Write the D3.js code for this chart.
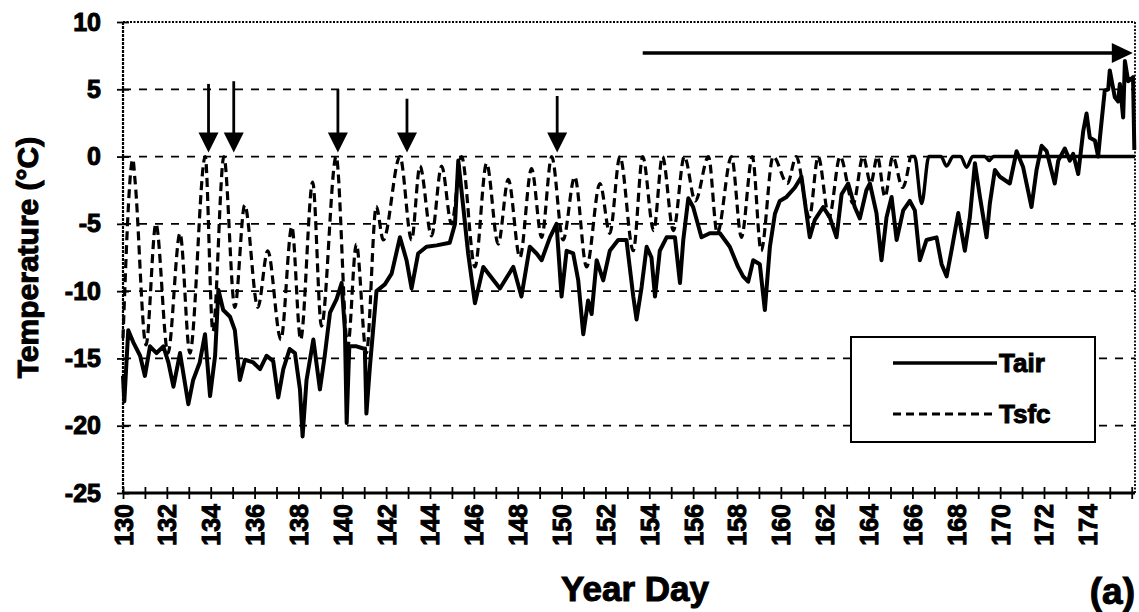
<!DOCTYPE html>
<html>
<head>
<meta charset="utf-8">
<script src="https://cdn.jsdelivr.net/npm/d3@7"></script>
<style>
  body { margin: 0; background: #fff; }
  svg { display: block; }
  text { font-family: "Liberation Sans", Arial, sans-serif; font-weight: bold; fill: #000; stroke: #000; stroke-width: 1px; }
</style>
</head>
<body>
<div id="chart"></div>
<script>
// Year day / temperature readings (approximate)
const tairDay = [130.0, 130.06, 130.24, 130.47, 130.78, 131.0, 131.23, 131.53, 131.84, 132.07, 132.3, 132.6, 132.98, 133.2, 133.5, 133.74, 133.97, 134.2, 134.35, 134.57, 134.88, 135.1, 135.33, 135.56, 135.94, 136.25, 136.55, 136.85, 137.08, 137.31, 137.6, 137.84, 138.07, 138.19, 138.37, 138.68, 138.98, 139.2, 139.44, 139.74, 139.97, 140.12, 140.2, 140.32, 140.65, 141.03, 141.1, 141.26, 141.56, 141.94, 142.25, 142.63, 142.93, 143.16, 143.46, 143.84, 144.3, 144.9, 145.14, 145.29, 145.52, 145.74, 146.05, 146.43, 146.81, 147.19, 147.49, 147.8, 148.17, 148.55, 148.86, 149.09, 149.47, 149.77, 150.0, 150.23, 150.53, 150.76, 150.99, 151.21, 151.37, 151.6, 151.9, 152.2, 152.58, 152.96, 153.27, 153.42, 153.65, 153.88, 154.1, 154.26, 154.48, 154.79, 155.17, 155.4, 155.55, 155.78, 156.0, 156.38, 156.76, 157.22, 157.67, 158.05, 158.28, 158.51, 158.74, 159.04, 159.27, 159.5, 159.73, 159.95, 160.26, 160.64, 160.94, 161.17, 161.32, 161.55, 161.93, 162.23, 162.54, 162.77, 163.07, 163.37, 163.6, 163.9, 164.06, 164.36, 164.59, 164.82, 165.05, 165.28, 165.58, 165.88, 166.11, 166.34, 166.64, 167.1, 167.33, 167.56, 167.78, 168.09, 168.39, 168.62, 168.85, 169.08, 169.38, 169.53, 169.76, 169.99, 170.44, 170.75, 171.05, 171.43, 171.66, 171.89, 172.12, 172.49, 172.65, 172.95, 173.18, 173.33, 173.56, 173.79, 173.94, 174.09, 174.32, 174.47, 174.55, 174.77, 174.93, 175.0, 175.23, 175.38, 175.46, 175.61, 175.69, 175.84, 176.06, 176.12];
const tairVal = [-16.3, -18.2, -12.9, -13.8, -14.8, -16.3, -14.1, -14.6, -14.1, -15.3, -17.1, -14.6, -18.4, -16.6, -15.3, -13.2, -17.8, -14.8, -9.9, -11.4, -11.9, -12.9, -16.6, -15.1, -15.3, -15.8, -14.8, -15.2, -17.9, -15.8, -14.3, -14.6, -17.3, -20.8, -16.6, -13.6, -17.3, -14.8, -11.6, -10.6, -9.4, -12.9, -19.8, -14.1, -14.1, -14.3, -19.1, -15.6, -10.0, -9.5, -8.7, -6.0, -7.7, -9.8, -7.2, -6.7, -6.6, -6.4, -5.0, -0.3, -3.8, -7.2, -10.9, -8.2, -9.0, -9.8, -9.0, -8.2, -10.4, -6.7, -7.2, -7.7, -6.0, -5.0, -10.4, -7.0, -7.2, -9.2, -13.2, -10.7, -11.7, -7.7, -9.2, -7.0, -6.2, -6.2, -10.4, -12.1, -9.7, -6.7, -7.5, -10.4, -7.0, -6.0, -6.0, -9.4, -6.2, -3.1, -3.75, -6.0, -5.7, -5.7, -6.7, -8.2, -8.9, -9.3, -7.7, -8.0, -11.4, -6.7, -4.25, -3.3, -3.0, -2.3, -1.5, -4.25, -6.0, -4.7, -3.75, -4.5, -6.0, -2.8, -2.0, -3.75, -4.6, -2.5, -2.0, -4.2, -7.7, -4.5, -3.0, -6.2, -4.0, -3.3, -4.0, -7.7, -6.2, -6.0, -8.0, -8.9, -7.0, -4.2, -7.0, -4.5, -0.5, -3.0, -6.0, -3.5, -1.0, -1.5, -2.0, 0.4, -0.8, -3.75, -1.0, 0.8, 0.4, -2.0, -0.3, 0.6, -0.3, 0.2, -1.3, 1.9, 3.2, 1.4, 1.2, 0.0, 1.4, 4.9, 5.0, 6.4, 4.4, 4.1, 5.4, 2.9, 7.1, 5.6, 5.9, 0.5];

const tsfcDay = [130.0, 130.45, 130.55, 131.05, 131.5, 132.05, 132.6, 133.05, 133.75, 134.1, 134.6, 135.1, 135.55, 136.15, 136.6, 137.2, 137.7, 138.1, 138.65, 139.05, 139.72, 140.25, 140.64, 141.1, 141.55, 141.87, 142.63, 143.16, 143.54, 144.07, 144.53, 144.98, 145.44, 146.05, 146.58, 147.11, 147.57, 148.1, 148.63, 149.09, 149.55, 150.07, 150.6, 151.14, 151.75, 152.2, 152.66, 153.27, 153.7, 154.2, 154.6, 155.1, 155.6, 156.1, 156.7, 157.1, 157.75, 158.2, 158.7, 159.1, 159.65, 160.3, 160.7, 161.3, 161.7, 162.2, 162.7, 163.3, 163.75, 164.1, 164.4, 164.75, 165.1, 165.55, 165.9, 166.1, 166.42, 166.75, 167.3, 167.56, 167.85, 168.2, 168.47, 168.75, 169.3, 169.5, 169.7, 176.15];
const tsfcVal = [-13.5, -0.2, -1.8, -14.0, -5.0, -14.6, -5.7, -14.6, 0, -13.0, 0, -11.2, -3.6, -11.2, -7.0, -13.6, -5.2, -13.6, -1.9, -12.6, 0, -14.1, -6.5, -14.6, -3.7, -6.2, 0, -6.2, -0.7, -5.9, -0.7, -5.0, 0, -8.2, -0.5, -6.5, -1.7, -7.5, -0.9, -6.0, 0, -6.2, -1.5, -8.2, -2.0, -5.7, 0, -7.0, 0, -5.5, 0, -5.5, 0, -3.3, 0, -5.7, 0, -6.0, 0, -7.0, 0, -2.0, 0, -4.5, 0, -4.5, 0, -3.5, 0, -2.0, 0, -3.0, 0, -2.3, 0, 0, -3.5, 0, 0, -0.7, 0, 0, -0.8, 0, 0, -0.3, 0, 0];
// from here on the surface sits at the melting point and the trace shows solid
const tsfcSolidFrom = 165.9;

// axis ticks
const yTicks = [-25, -20, -15, -10, -5, 0, 5, 10];
const yGrid = [-20, -15, -10, -5, 0, 5];
const xLabelDays = [130, 132, 134, 136, 138, 140, 142, 144, 146, 148, 150, 152, 154, 156, 158, 160, 162, 164, 166, 168, 170, 172, 174];

// annotation arrows: melt events and the continuous melt period
const eventDays = [133.9, 135.05, 139.8, 142.95, 149.8];
const eventTops = [5.4, 5.6, 5.0, 4.3, 4.5];
const eventTip = 0.3;
const meltSpan = [153.7, 176.05];
const meltLevel = 7.7;

const width = 1139, height = 612;
const margin = { top: 22, right: 4, bottom: 119, left: 123 };
const plotW = width - margin.left - margin.right;
const plotH = height - margin.top - margin.bottom;

const svg = d3.select("#chart").append("svg")
  .attr("width", width)
  .attr("height", height);

const g = svg.append("g")
  .attr("transform", `translate(${margin.left},${margin.top})`);

const x = d3.scaleLinear().domain([130, 176.15]).range([0, plotW]);
const y = d3.scaleLinear().domain([-25, 10]).range([plotH, 0]);

// dashed gridlines
g.selectAll(".grid")
  .data(yGrid)
  .enter().append("line")
  .attr("class", "grid")
  .attr("x1", 0).attr("x2", plotW)
  .attr("y1", d => y(d)).attr("y2", d => y(d))
  .attr("stroke", "#000")
  .attr("stroke-width", 1.8)
  .attr("stroke-dasharray", "8,8");

// dotted frame top / right / left
g.append("line")
  .attr("x1", 0).attr("x2", plotW).attr("y1", 0).attr("y2", 0)
  .attr("stroke", "#000").attr("stroke-width", 1.8).attr("stroke-dasharray", "2,1.5");
g.append("line")
  .attr("x1", plotW).attr("x2", plotW).attr("y1", 0).attr("y2", plotH)
  .attr("stroke", "#000").attr("stroke-width", 1.8).attr("stroke-dasharray", "2,1.5");
g.append("line")
  .attr("x1", 0).attr("x2", 0).attr("y1", 0).attr("y2", plotH)
  .attr("stroke", "#000").attr("stroke-width", 2.2).attr("stroke-dasharray", "3,1");

// data
const tsfc = tsfcDay.map((d, i) => ({ day: d, t: tsfcVal[i] }));
const tair = tairDay.map((d, i) => ({ day: d, t: tairVal[i] }));

const smooth = d3.line().x(d => x(d.day)).y(d => y(d.t)).curve(d3.curveMonotoneX);
const plain = d3.line().x(d => x(d.day)).y(d => y(d.t));

g.append("path")
  .datum(tsfc.filter(d => d.day <= tsfcSolidFrom))
  .attr("d", smooth)
  .attr("fill", "none")
  .attr("stroke", "#000")
  .attr("stroke-width", 3.2)
  .attr("stroke-dasharray", "9,5");

g.append("path")
  .datum(tsfc.filter(d => d.day >= tsfcSolidFrom))
  .attr("d", smooth)
  .attr("fill", "none")
  .attr("stroke", "#000")
  .attr("stroke-width", 3.4);

g.append("path")
  .datum(tair)
  .attr("d", plain)
  .attr("fill", "none")
  .attr("stroke", "#000")
  .attr("stroke-width", 4)
  .attr("stroke-linejoin", "round");

// bottom axis: cross ticks every day
const xTickLines = g.append("g")
  .attr("transform", `translate(0,${plotH - 6})`)
  .call(d3.axisBottom(x).tickValues(d3.range(130, 177, 1)).tickSize(12).tickFormat(""));
xTickLines.select(".domain").remove();
xTickLines.selectAll("line").attr("stroke-width", 1.8);

g.append("line")
  .attr("x1", 0).attr("x2", plotW).attr("y1", plotH).attr("y2", plotH)
  .attr("stroke", "#000").attr("stroke-width", 3);

const xLabels = g.append("g")
  .attr("transform", `translate(0,${plotH})`)
  .call(d3.axisBottom(x).tickValues(xLabelDays).tickSize(0).tickFormat(d => d));
xLabels.select(".domain").remove();
xLabels.selectAll("text")
  .attr("transform", "rotate(-90)")
  .attr("x", -11)
  .attr("y", 0)
  .attr("dy", "0.36em")
  .style("text-anchor", "end")
  .style("font-size", "25px")
  .style("font-family", "'Liberation Sans', Arial, sans-serif");

// left axis: cross ticks and labels
const yTickLines = g.append("g")
  .attr("transform", "translate(6,0)")
  .call(d3.axisLeft(y).tickValues(yTicks).tickSize(12).tickFormat(""));
yTickLines.select(".domain").remove();
yTickLines.selectAll("line").attr("stroke-width", 1.8);

const yLabels = g.append("g")
  .call(d3.axisLeft(y).tickValues(yTicks).tickSize(0).tickPadding(22).tickFormat(d => d));
yLabels.select(".domain").remove();
yLabels.selectAll("text")
  .style("font-size", "25px")
  .style("font-family", "'Liberation Sans', Arial, sans-serif");

// arrows
const ann = g.append("g");
ann.selectAll(".ev-shaft")
  .data(eventDays)
  .enter().append("line")
  .attr("x1", d => x(d)).attr("x2", d => x(d))
  .attr("y1", (d, i) => y(eventTops[i]))
  .attr("y2", y(eventTip) - 18)
  .attr("stroke", "#000")
  .attr("stroke-width", 2.8);
ann.selectAll(".ev-head")
  .data(eventDays)
  .enter().append("path")
  .attr("d", d => {
    const cx = x(d), ty = y(eventTip);
    return `M${cx - 10},${ty - 20}L${cx + 10},${ty - 20}L${cx},${ty}Z`;
  })
  .attr("fill", "#000");

ann.append("line")
  .attr("x1", x(meltSpan[0])).attr("x2", x(meltSpan[1]) - 18)
  .attr("y1", y(meltLevel)).attr("y2", y(meltLevel))
  .attr("stroke", "#000")
  .attr("stroke-width", 3.4);
ann.append("path")
  .attr("d", () => {
    const tx = x(meltSpan[1]), ty = y(meltLevel);
    return `M${tx - 21},${ty - 10}L${tx},${ty}L${tx - 21},${ty + 10}Z`;
  })
  .attr("fill", "#000");

// axis titles
svg.append("text")
  .attr("transform", `translate(38,${margin.top + plotH / 2}) rotate(-90)`)
  .attr("text-anchor", "middle")
  .style("font-size", "30px")
  .text("Temperature (°C)");

svg.append("text")
  .attr("x", margin.left + plotW / 2 + 6)
  .attr("y", 601)
  .attr("text-anchor", "middle")
  .style("font-size", "35px")
  .text("Year Day");

svg.append("text")
  .attr("x", 1135)
  .attr("y", 604)
  .attr("text-anchor", "end")
  .style("font-size", "37px")
  .text("(a)");

// legend
const legend = svg.append("g").attr("transform", "translate(851,337)");
legend.append("rect")
  .attr("width", 244).attr("height", 105)
  .attr("fill", "#fff")
  .attr("stroke", "#000")
  .attr("stroke-width", 2);
legend.append("line")
  .attr("x1", 42).attr("x2", 146).attr("y1", 26).attr("y2", 26)
  .attr("stroke", "#000").attr("stroke-width", 3.4);
legend.append("text")
  .attr("x", 148).attr("y", 35)
  .style("font-size", "26px")
  .text("Tair");
legend.append("line")
  .attr("x1", 42).attr("x2", 146).attr("y1", 77).attr("y2", 77)
  .attr("stroke", "#000").attr("stroke-width", 2.8)
  .attr("stroke-dasharray", "8,5");
legend.append("text")
  .attr("x", 148).attr("y", 86)
  .style("font-size", "26px")
  .text("Tsfc");
</script>
</body>
</html>
